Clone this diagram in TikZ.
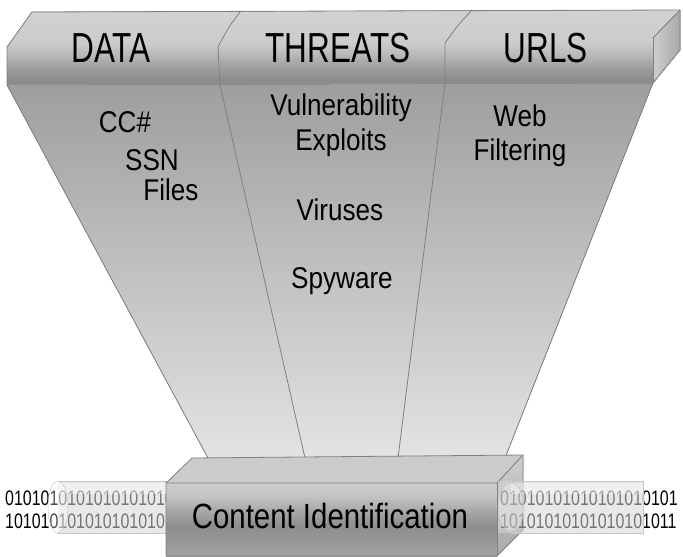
\documentclass[tikz,border=0pt]{standalone}
\usepackage{fontspec}
\setmainfont{Liberation Sans}
\newfontfamily\headfont{Liberation Sans}[FakeStretch=0.75]
\newfontfamily\bodyfont{Liberation Sans}[FakeStretch=0.87]
\newfontfamily\boxfont{Liberation Sans}[FakeStretch=0.84]
\newfontfamily\binfont{Liberation Sans}[FakeStretch=0.76]
\definecolor{edge}{HTML}{808080}
\definecolor{bA}{HTML}{909090}
\definecolor{bB}{HTML}{8B8B8B}
\definecolor{bC}{HTML}{9A9A9A}
\definecolor{bD}{HTML}{B8B8B8}
\definecolor{bE}{HTML}{CCCCCC}
\definecolor{bF}{HTML}{D2D2D2}
\definecolor{cA}{HTML}{A4A4A4}
\definecolor{cB}{HTML}{969696}
\definecolor{cC}{HTML}{8E8E8E}
\definecolor{cD}{HTML}{A8A8A8}
\definecolor{cE}{HTML}{C6C6C6}
\definecolor{cF}{HTML}{CCCCCC}
\definecolor{funtop}{HTML}{9E9E9E}
\definecolor{funbot}{HTML}{E3E3E3}
\definecolor{sideL}{HTML}{CDCDCD}
\definecolor{sideR}{HTML}{A9A9A9}
\definecolor{boxtop}{HTML}{CBCBCB}
\definecolor{tubeA}{HTML}{E2E2E2}
\definecolor{tubeB}{HTML}{D6D6D6}
\pgfdeclareverticalshading{bandshade}{100bp}{color(0bp)=(bA); color(25bp)=(bA); color(28bp)=(bB); color(35bp)=(bC); color(45bp)=(bD); color(53bp)=(bE); color(75bp)=(bF); color(100bp)=(bF)}
\pgfdeclareverticalshading{boxshade}{100bp}{color(0bp)=(cA); color(25bp)=(cA); color(36bp)=(cB); color(46bp)=(cC); color(56bp)=(cD); color(67bp)=(cE); color(75bp)=(cF); color(100bp)=(cF)}
\tikzset{
  edgeline/.style={draw=edge, line width=0.8pt},
  headtext/.style={anchor=base, inner sep=0pt, font=\headfont\fontsize{42}{46}\selectfont},
  bodytext/.style={anchor=base, inner sep=0pt, font=\bodyfont\fontsize{30}{34}\selectfont},
  bintext/.style={anchor=base west, inner sep=0pt, font=\binfont\fontsize{21}{24}\selectfont},
  tubefill/.style={fill=tubeB, fill opacity=0.55},
  tubelight/.style={fill=white, fill opacity=0.35},
  tubeend/.style={fill=white, fill opacity=0.3, draw=edge!45, draw opacity=1, line width=0.5pt},
}
\begin{document}
\begin{tikzpicture}[x=1pt,y=-1pt,line join=round]
\useasboundingbox (0,0) rectangle (683,557);
% funnel
\fill[top color=funtop, bottom color=funbot] (7,85) -- (653,83) -- (505,458) -- (208,458) -- cycle;
% band
\fill[shading=bandshade] (32,12) -- (680,10) -- (680,50) -- (653,83) -- (7,85) -- (7,47) -- cycle;
\fill[left color=sideL, right color=sideR] (653,38) -- (680,10) -- (680,50) -- (653,83) -- cycle;
\draw[draw=edge!80, line width=0.5pt] (7,85) -- (653,83);
% outlines
\draw[edgeline] (208,458) -- (7,85) -- (7,47) -- (32,12) -- (680,10) -- (680,50) -- (653,83) -- (505,458);
\draw[edgeline] (653,38) -- (653,83);
\draw[edgeline] (653,38) -- (680,10);
\draw[edgeline] (240,12) .. controls (228,28) .. (218,47) -- (220,85) -- (305,458);
\draw[edgeline] (472,10) .. controls (458,25) .. (445,43) -- (445,83) -- (398,458);
% headings
\node[headtext] (data) at (111,62) {DATA};
\node[headtext] (threats) at (338,62) {THREATS};
\node[headtext] (urls) at (546,62) {URLS};
% body texts
\node[bodytext] (cc) at (125,132) {CC\#};
\node[bodytext] (ssn) at (152,170) {SSN};
\node[bodytext] (files) at (171,200) {Files};
\node[bodytext] (vuln) at (341,115) {Vulnerability};
\node[bodytext] (expl) at (341,150) {Exploits};
\node[bodytext] (vir) at (340,220) {Viruses};
\node[bodytext] (spy) at (342,288) {Spyware};
\node[bodytext] (web) at (520,126) {Web};
\node[bodytext] (filt) at (520,160) {Filtering};
% left binary + tube
\node[bintext] (lb1) at (5,505) {0101010101010101010101};
\node[bintext] (lb2) at (5,528) {1010101010101010101010};
\fill[tubefill] (58,481) rectangle (170,533);
\fill[tubelight] (58,483) rectangle (170,494);
\draw[draw=edge!45, line width=0.5pt] (58,481) -- (170,481) (58,533) -- (170,533);
\path[tubeend] (58,507) ellipse [x radius=10, y radius=26];
% box
\fill[boxtop] (166,483) -- (192,458) -- (523,455) -- (497,483) -- cycle;
\fill[shading=boxshade] (166,483) rectangle (497,556);
\fill[top color=sideL, bottom color=sideR] (497,483) -- (523,455) -- (523,530) -- (497,556) -- cycle;
\draw[edgeline] (166,556) -- (166,483) -- (192,458) -- (523,455) -- (523,530) -- (497,556) -- (166,556);
\draw[edgeline] (166,483) -- (497,483) -- (523,455);
\draw[edgeline] (497,483) -- (497,556);
\node[anchor=base, inner sep=0pt, font=\boxfont\fontsize{35}{40}\selectfont] (ci) at (330,528) {Content Identification};
% right binary + tube
\node[bintext] (rb1) at (500,505) {01010101010101010101};
\node[bintext] (rb2) at (500,528) {10101010101010101011};
\fill[tubefill] (498,481) rectangle (643,533);
\fill[tubelight] (511,483) rectangle (643,494);
\draw[draw=edge!45, line width=0.5pt] (511,481) -- (643,481) -- (643,533) -- (511,533);
\path[tubeend] (511,507) ellipse [x radius=13, y radius=24];
\end{tikzpicture}
\end{document}
